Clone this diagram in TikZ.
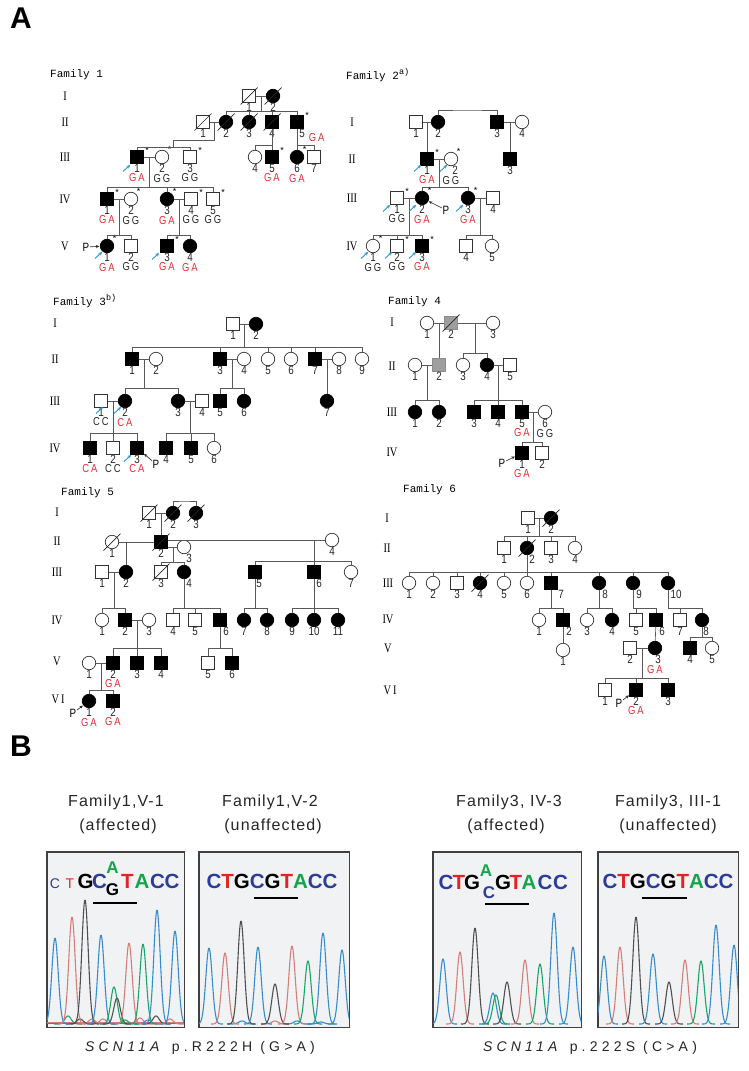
\documentclass[tikz,border=0pt]{standalone}
\usepackage{fontspec}
\setmainfont{Liberation Sans}
\newfontfamily\nfont[FakeStretch=0.82]{Liberation Sans}
\newfontfamily\mfont{Liberation Mono}
\newfontfamily\rfont[FakeStretch=0.8]{Liberation Serif}
\newfontfamily\tfont[LetterSpace=7]{Liberation Sans}
\newfontfamily\cfont[LetterSpace=30]{Liberation Sans}
\usetikzlibrary{calc,arrows.meta}
\definecolor{gred}{RGB}{228,45,50}
\definecolor{abl}{RGB}{35,150,210}
\definecolor{cb}{RGB}{55,140,205}
\definecolor{cr}{RGB}{215,125,120}
\definecolor{cg}{RGB}{25,165,105}
\definecolor{ck}{RGB}{80,80,80}
\definecolor{sqb}{RGB}{45,60,150}
\definecolor{sqr}{RGB}{225,35,35}
\definecolor{sqg}{RGB}{20,165,75}
\definecolor{bgc}{RGB}{240,242,244}
\newcommand\sC{\textcolor{sqb}{C}}
\newcommand\sT{\textcolor{sqr}{T}}
\newcommand\sA{\textcolor{sqg}{A}}
\newcommand\dd[1]{\draw[black!85,line width=0.7pt] ($(#1)+(-8.5,8.5)$) -- ($(#1)+(8.5,-8.5)$);}
\newcommand\barr[2]{\draw[barrow] (#1-7,#2+6.5) -- (#1,#2);}
\newcommand\sibs[3]{\draw[pl] (#1) -- (#1 |- 0,#2); \foreach \ch in {#3}{\draw[pl] (#1 |- 0,#2) -| (\ch);}}
\newcommand\pk[3]{\draw[#3,line width=1.1pt] plot[domain=#1-14:#1+14,samples=50,smooth] (\x,{1024-(1024-#2)*exp(-((\x-#1)/4.5)^2)});}
\begin{document}
\begin{tikzpicture}[x=1pt,y=-1pt,
 pl/.style={draw=black!65,line width=0.65pt},
 ind/.style={draw=black!80,line width=0.7pt,inner sep=0pt,fill=white,label distance=1.5pt},
 m/.style={ind,rectangle,minimum size=12.5pt},
 f/.style={ind,circle,minimum size=13.5pt},
 af/.style={fill=black,draw=black},
 gy/.style={fill=black!38,draw=black!45},
 numf/.style={font=\nfont\fontsize{12}{12}\selectfont,inner sep=0pt,text=black!85},
 gtf/.style={font=\nfont\fontsize{11.5}{12}\selectfont,inner sep=0pt},
 astf/.style={font=\fontsize{9}{9}\selectfont,inner sep=0pt},
 n/.style={label={[numf]below:#1}},
 nx/.style 2 args={label={[numf,xshift=#1]below:#2}},
 g/.style={label={[gtf,text=gred,yshift=-10pt]below:#1}},
 k/.style={label={[gtf,text=black!85,yshift=-10pt]below:#1}},
 ast/.style={label={[astf,anchor=center,xshift=10pt]north:{*}}},
 astc/.style={label={[astf,anchor=center,xshift=7.5pt]north:{*}}},
 genf/.style={font=\rfont\fontsize{13}{13}\selectfont,inner sep=0pt},
 famf/.style={font=\mfont\fontsize{11}{11}\selectfont,inner sep=0pt},
 ptf/.style={font=\nfont\fontsize{12}{12}\selectfont,inner sep=0.5pt},
 parr/.style={-{Stealth[length=3.5pt,width=3pt]},line width=0.6pt,black!85,shorten >=0.5pt},
 barrow/.style={-{Stealth[length=3.5pt,width=3.4pt]},abl,line width=0.9pt},
 chb/.style={draw=black!75,line width=1pt,fill=bgc,inner sep=0pt},
 seqf/.style={font=\bfseries\fontsize{20.5}{20}\selectfont,inner sep=0pt,anchor=base},
 seqs/.style={font=\bfseries\fontsize{17}{17}\selectfont,inner sep=0pt,anchor=base},
 seqt/.style={font=\fontsize{14}{14}\selectfont,inner sep=0pt,anchor=base},
 titf/.style={font=\tfont\fontsize{16}{16}\selectfont,inner sep=0pt,text=black!85},
 capf/.style={font=\cfont\fontsize{14}{14}\selectfont,inner sep=0pt,text=black!85},
 bar/.style={line width=2.8pt,black}
]
\useasboundingbox (0,0) rectangle (749,1071);
\fill[white] (0,0) rectangle (749,1071);
\node[font=\bfseries\fontsize{30}{30}\selectfont,inner sep=0pt] (labA) at (21,18) {A};
\node[font=\bfseries\fontsize{30}{30}\selectfont,inner sep=0pt] (labB) at (21,746) {B};

% ================= Family 1
\node[famf,anchor=west] (f1t) at (50,75) {Family 1};
\node[genf] (f1g1) at (65,96) {I};
\node[genf] (f1g2) at (65,122) {II};
\node[genf] (f1g3) at (65,157) {III};
\node[genf] (f1g4) at (65,199) {IV};
\node[genf] (f1g5) at (65,246) {V};
\node[m,n=1] (f1a1) at (249,96) {};
\node[f,af,n=2] (f1a2) at (273,96) {};
\node[m,n=1] (f1b1) at (203,122) {};
\node[f,af,n=2] (f1b2) at (226,122) {};
\node[f,af,n=3] (f1b3) at (249,122) {};
\node[m,af,n=4] (f1b4) at (272,122) {};
\node[m,af,nx={5pt}{5},ast,label={[gtf,text=gred,anchor=west,xshift=5pt,yshift=-16pt]east:{G\,A}}] (f1b5) at (297,122) {};
\node[m,af,n=1,g={G\,A},ast] (f1c1) at (137,157) {};
\node[f,n=2,k={G\,G},astc] (f1c2) at (162,157) {};
\node[m,n=3,k={G\,G},ast] (f1c3) at (190,157) {};
\node[f,n=4] (f1c4) at (255,157) {};
\node[m,af,n=5,g={G\,A},ast] (f1c5) at (272,157) {};
\node[f,af,n=6,g={G\,A},astc] (f1c6) at (297,157) {};
\node[m,n=7] (f1c7) at (314,157) {};
\node[m,af,n=1,g={G\,A},ast] (f1d1) at (107,199) {};
\node[f,n=2,k={G\,G},astc] (f1d2) at (131,199) {};
\node[f,af,n=3,g={G\,A},astc] (f1d3) at (167,199) {};
\node[m,n=4,k={G\,G},ast] (f1d4) at (191,199) {};
\node[m,n=5,k={G\,G},ast] (f1d5) at (213,199) {};
\node[f,af,n=1,g={G\,A},astc] (f1e1) at (107,246) {};
\node[m,n=2,k={G\,G}] (f1e2) at (131,246) {};
\node[m,af,n=3,g={G\,A},ast] (f1e3) at (167,246) {};
\node[f,af,n=4,g={G\,A}] (f1e4) at (190,246) {};
\dd{f1a1}\dd{f1a2}\dd{f1b1}\dd{f1b2}\dd{f1b3}\dd{f1b4}
\draw[pl] (f1a1) -- (f1a2);
\coordinate (f1m1) at ($(f1a1)!.5!(f1a2)$);
\sibs{f1m1}{111}{f1b2,f1b3,f1b4,f1b5}
\draw[pl] (f1b1) -- (f1b2);
\coordinate (f1m2) at ($(f1b1)!.5!(f1b2)$);
\coordinate (f1k) at (173,140);
\draw[pl] (f1m2) |- (f1k);
\sibs{f1k}{147}{f1c1,f1c3}
\sibs{f1b4}{145}{f1c4,f1c5}
\sibs{f1b5}{145}{f1c6,f1c7}
\draw[pl] (f1c1) -- (f1c2);
\coordinate (f1m3) at ($(f1c1)!.5!(f1c2)$);
\sibs{f1m3}{187}{f1d1,f1d3,f1d5}
\draw[pl] (f1d1) -- (f1d2);
\coordinate (f1m4) at ($(f1d1)!.5!(f1d2)$);
\sibs{f1m4}{235}{f1e1,f1e2}
\draw[pl] (f1d3) -- (f1d4);
\coordinate (f1m5) at ($(f1d3)!.5!(f1d4)$);
\sibs{f1m5}{235}{f1e3,f1e4}
\node[ptf] (f1p) at (86,247) {P};
\draw[parr] (f1p) -- (f1e1);
\barr{130}{165}\barr{102}{252}\barr{159}{253}

% ================= Family 2
\node[famf,anchor=west] (f2t) at (346,75) {Family 2\raisebox{5pt}{\fontsize{8.5}{8.5}\selectfont a)}};
\node[genf] (f2g1) at (352,122) {I};
\node[genf] (f2g2) at (352,159) {II};
\node[genf] (f2g3) at (352,198) {III};
\node[genf] (f2g4) at (352,246) {IV};
\node[m,n=1] (f2a1) at (416,122) {};
\node[f,af,n=2] (f2a2) at (438,122) {};
\node[m,af,n=3] (f2a3) at (497,122) {};
\node[f,n=4] (f2a4) at (522,122) {};
\node[m,af,n=1,g={G\,A},ast] (f2b1) at (427,159) {};
\node[f,nx={4pt}{2},k={G\,G},astc] (f2b2) at (451,159) {};
\node[m,af,n=3] (f2b3) at (510,159) {};
\node[m,n=1,k={G\,G},ast] (f2c1) at (397,198) {};
\node[f,af,n=2,g={G\,A},astc] (f2c2) at (422,198) {};
\node[f,af,n=3,g={G\,A},astc] (f2c3) at (468,198) {};
\node[m,n=4] (f2c4) at (493,198) {};
\node[f,n=1,k={G\,G},astc] (f2d1) at (373,246) {};
\node[m,n=2,k={G\,G},ast] (f2d2) at (397,246) {};
\node[m,af,n=3,g={G\,A},ast] (f2d3) at (422,246) {};
\node[m,n=4] (f2d4) at (466,246) {};
\node[f,n=5] (f2d5) at (492,246) {};
\coordinate (f2top) at (467,110);
\draw[pl] (f2a2) |- (f2top) -| (f2a3);
\draw[pl] (f2a1) -- (f2a2);
\coordinate (f2m1) at ($(f2a1)!.5!(f2a2)$);
\draw[pl] (f2m1) -- (f2b1);
\draw[pl] (f2a3) -- (f2a4);
\coordinate (f2m2) at (510,122);
\draw[pl] (f2m2) -- (f2b3);
\draw[pl] (f2b1) -- (f2b2);
\coordinate (f2m3) at ($(f2b1)!.5!(f2b2)$);
\sibs{f2m3}{187}{f2c2,f2c3}
\draw[pl] (f2c1) -- (f2c2);
\coordinate (f2m4) at ($(f2c1)!.5!(f2c2)$);
\sibs{f2m4}{235}{f2d1,f2d2,f2d3}
\draw[pl] (f2c3) -- (f2c4);
\coordinate (f2m5) at ($(f2c3)!.5!(f2c4)$);
\sibs{f2m5}{235}{f2d4,f2d5}
\node[ptf] (f2p) at (446,210) {P};
\draw[parr] (f2p) -- (f2c2);
\barr{421}{165}\barr{447}{165}\barr{390}{205}\barr{416}{205}\barr{463}{205}
\barr{368}{252}\barr{392}{252}\barr{416}{252}

% ================= Family 3
\node[famf,anchor=west] (f3t) at (53,301) {Family 3\raisebox{5pt}{\fontsize{8.5}{8.5}\selectfont b)}};
\node[genf] (f3g1) at (55,323) {I};
\node[genf] (f3g2) at (55,359) {II};
\node[genf] (f3g3) at (55,401) {III};
\node[genf] (f3g4) at (55,448) {IV};
\node[m,n=1] (f3a1) at (233,324) {};
\node[f,af,n=2] (f3a2) at (256,324) {};
\node[m,af,n=1] (f3b1) at (132,359) {};
\node[f,n=2] (f3b2) at (156,359) {};
\node[m,af,n=3] (f3b3) at (220,359) {};
\node[f,n=4] (f3b4) at (244,359) {};
\node[f,n=5] (f3b5) at (268,359) {};
\node[f,n=6] (f3b6) at (291,359) {};
\node[m,af,n=7] (f3b7) at (315,359) {};
\node[f,n=8] (f3b8) at (339,359) {};
\node[f,n=9] (f3b9) at (362,359) {};
\node[m,n=1,k={C\,C}] (f3c1) at (101,401) {};
\node[f,af,n=2,g={C\,A}] (f3c2) at (125,401) {};
\node[f,af,n=3] (f3c3) at (178,401) {};
\node[m,n=4] (f3c4) at (202,401) {};
\node[m,af,n=5] (f3c5) at (220,401) {};
\node[f,af,n=6] (f3c6) at (244,401) {};
\node[f,af,n=7] (f3c7) at (327,401) {};
\node[m,af,n=1,g={C\,A}] (f3d1) at (90,448) {};
\node[m,n=2,k={C\,C}] (f3d2) at (113,448) {};
\node[m,af,n=3,g={C\,A}] (f3d3) at (137,448) {};
\node[m,af,n=4] (f3d4) at (166,448) {};
\node[m,af,n=5] (f3d5) at (191,448) {};
\node[f,n=6] (f3d6) at (214,448) {};
\draw[pl] (f3a1) -- (f3a2);
\coordinate (f3m1) at ($(f3a1)!.5!(f3a2)$);
\sibs{f3m1}{347}{f3b1,f3b3,f3b5,f3b6,f3b7,f3b9}
\draw[pl] (f3b1) -- (f3b2);
\coordinate (f3m2) at ($(f3b1)!.5!(f3b2)$);
\sibs{f3m2}{388}{f3c2,f3c3}
\draw[pl] (f3b3) -- (f3b4);
\coordinate (f3m3) at ($(f3b3)!.5!(f3b4)$);
\sibs{f3m3}{388}{f3c5,f3c6}
\draw[pl] (f3b7) -- (f3b8);
\coordinate (f3m4) at (327,359);
\draw[pl] (f3m4) -- (f3c7);
\draw[pl] (f3c1) -- (f3c2);
\coordinate (f3m5) at ($(f3c1)!.5!(f3c2)$);
\sibs{f3m5}{433}{f3d1,f3d2,f3d3}
\draw[pl] (f3c3) -- (f3c4);
\coordinate (f3m6) at ($(f3c3)!.5!(f3c4)$);
\sibs{f3m6}{433}{f3d4,f3d5,f3d6}
\node[ptf] (f3p) at (156,464) {P};
\draw[parr] (f3p) -- (f3d3);
\barr{103}{407}\barr{121}{407}\barr{131}{455}

% ================= Family 4
\node[famf,anchor=west] (f4t) at (388,302) {Family 4};
\node[genf] (f4g1) at (392,322) {I};
\node[genf] (f4g2) at (392,366) {II};
\node[genf] (f4g3) at (392,412) {III};
\node[genf] (f4g4) at (392,452) {IV};
\node[f,n=1] (f4a1) at (427,323) {};
\node[m,gy,n=2] (f4a2) at (451,323) {};
\node[f,n=3] (f4a3) at (493,323) {};
\node[f,n=1] (f4b1) at (415,365) {};
\node[m,gy,n=2] (f4b2) at (439,365) {};
\node[f,n=3] (f4b3) at (463,365) {};
\node[f,af,n=4] (f4b4) at (487,365) {};
\node[m,n=5] (f4b5) at (510,365) {};
\node[f,af,n=1] (f4c1) at (415,412) {};
\node[f,af,n=2] (f4c2) at (439,412) {};
\node[m,af,n=3] (f4c3) at (474,412) {};
\node[m,af,n=4] (f4c4) at (498,412) {};
\node[m,af,n=5,g={G\,A}] (f4c5) at (522,412) {};
\node[f,n=6,k={G\,G}] (f4c6) at (545,412) {};
\node[m,af,n=1,g={G\,A}] (f4d1) at (522,453) {};
\node[m,n=2] (f4d2) at (542,453) {};
\dd{f4a2}
\draw[pl] (f4a1) -- (f4a2);
\draw[pl] (f4a2) -- (f4a3);
\coordinate (f4m1) at (439,323);
\draw[pl] (f4m1) -- (f4b2);
\coordinate (f4m2) at (475,323);
\sibs{f4m2}{353}{f4b3,f4b4}
\draw[pl] (f4b1) -- (f4b2);
\coordinate (f4m3) at ($(f4b1)!.5!(f4b2)$);
\sibs{f4m3}{400}{f4c1,f4c2}
\draw[pl] (f4b4) -- (f4b5);
\coordinate (f4m4) at ($(f4b4)!.5!(f4b5)$);
\sibs{f4m4}{400}{f4c3,f4c4,f4c5}
\draw[pl] (f4c5) -- (f4c6);
\coordinate (f4m5) at ($(f4c5)!.5!(f4c6)$);
\sibs{f4m5}{442}{f4d1,f4d2}
\node[ptf] (f4p) at (502,463) {P};
\draw[parr] (f4p) -- (f4d1);

% ================= Family 5
\node[famf,anchor=west] (f5t) at (61,493) {Family 5};
\node[genf] (f5g1) at (57,512) {I};
\node[genf] (f5g2) at (57,541) {II};
\node[genf] (f5g3) at (57,572) {III};
\node[genf] (f5g4) at (57,620) {IV};
\node[genf] (f5g5) at (57,661) {V};
\node[genf] (f5g6) at (58,699) {V\hspace{2pt}I};
\node[m,n=1] (f5a1) at (149,513) {};
\node[f,af,n=2] (f5a2) at (173,513) {};
\node[f,af,n=3] (f5a3) at (196,513) {};
\node[f,n=1] (f5b1) at (112,542) {};
\node[m,af,n=2] (f5b2) at (161,542) {};
\node[f,nx={5pt}{3}] (f5b3) at (184,547) {};
\node[f,n=4] (f5b4) at (332,540) {};
\node[m,n=1] (f5c1) at (102,572) {};
\node[f,af,n=2] (f5c2) at (126,572) {};
\node[m,n=3] (f5c3) at (161,572) {};
\node[f,af,nx={5pt}{4}] (f5c4) at (184,572) {};
\node[m,af,nx={4pt}{5}] (f5c5) at (255,572) {};
\node[m,af,nx={5pt}{6}] (f5c6) at (314,572) {};
\node[f,n=7] (f5c7) at (351,572) {};
\node[f,n=1] (f5d1) at (102,620) {};
\node[m,af,n=2] (f5d2) at (125,620) {};
\node[f,n=3] (f5d3) at (149,620) {};
\node[m,n=4] (f5d4) at (173,620) {};
\node[m,n=5] (f5d5) at (195,620) {};
\node[m,af,nx={6pt}{6}] (f5d6) at (220,620) {};
\node[f,af,n=7] (f5d7) at (244,620) {};
\node[f,af,n=8] (f5d8) at (267,620) {};
\node[f,af,n=9] (f5d9) at (292,620) {};
\node[f,af,n=10] (f5d10) at (314,620) {};
\node[f,af,n=11] (f5d11) at (338,620) {};
\node[f,n=1] (f5e1) at (89,663) {};
\node[m,af,n=2,g={G\,A}] (f5e2) at (113,663) {};
\node[m,af,n=3] (f5e3) at (137,663) {};
\node[m,af,n=4] (f5e4) at (161,663) {};
\node[m,n=5] (f5e5) at (208,663) {};
\node[m,af,n=6] (f5e6) at (232,663) {};
\node[f,af,n=1,g={G\,A}] (f5f1) at (89,701) {};
\node[m,af,n=2,g={G\,A}] (f5f2) at (113,701) {};
\dd{f5a1}\dd{f5a2}\dd{f5a3}\dd{f5b1}\dd{f5b2}\dd{f5c3}
\coordinate (f5top) at (184,501);
\draw[pl] (f5a2) |- (f5top) -| (f5a3);
\draw[pl] (f5a1) -- (f5a2);
\coordinate (f5m0) at (161,513);
\draw[pl] (f5m0) -- (f5b2);
\draw[pl] (f5b1) -- (f5b2);
\draw[pl] (f5b2.east |- f5b3) -- (f5b3);
\draw[pl] (f5b2.east |- f5b4) -- (f5b4);
\coordinate (f5m1) at (126,542);
\draw[pl] (f5m1) -- (f5c2);
\coordinate (f5m2) at (173,547);
\sibs{f5m2}{562}{f5c3,f5c4}
\coordinate (f5m3) at (314,540);
\sibs{f5m3}{561}{f5c5,f5c6,f5c7}
\draw[pl] (f5c1) -- (f5c2);
\coordinate (f5m4) at ($(f5c1)!.5!(f5c2)$);
\sibs{f5m4}{608}{f5d1,f5d2}
\sibs{f5c4}{608}{f5d4,f5d5,f5d6}
\sibs{f5c5}{608}{f5d7,f5d8}
\sibs{f5c6}{608}{f5d9,f5d10,f5d11}
\draw[pl] (f5d2) -- (f5d3);
\coordinate (f5m5) at ($(f5d2)!.5!(f5d3)$);
\sibs{f5m5}{648}{f5e2,f5e3,f5e4}
\sibs{f5d6}{648}{f5e5,f5e6}
\draw[pl] (f5e1) -- (f5e2);
\coordinate (f5m6) at ($(f5e1)!.5!(f5e2)$);
\sibs{f5m6}{690}{f5f1,f5f2}
\node[ptf] (f5p) at (73,713) {P};
\draw[parr] (f5p) -- (f5f1);

% ================= Family 6
\node[famf,anchor=west] (f6t) at (403,490) {Family 6};
\node[genf] (f6g1) at (387,518) {I};
\node[genf] (f6g2) at (387,548) {II};
\node[genf] (f6g3) at (388,583) {III};
\node[genf] (f6g4) at (388,619) {IV};
\node[genf] (f6g5) at (388,648) {V};
\node[genf] (f6g6) at (390,690) {V\hspace{2pt}I};
\node[m,n=1] (f6a1) at (528,518) {};
\node[f,af,n=2] (f6a2) at (551,518) {};
\node[m,n=1] (f6b1) at (504,548) {};
\node[f,af,nx={5pt}{2}] (f6b2) at (527,548) {};
\node[m,n=3] (f6b3) at (551,548) {};
\node[f,n=4] (f6b4) at (575,548) {};
\node[f,n=1] (f6c1) at (409,583) {};
\node[f,n=2] (f6c2) at (433,583) {};
\node[m,n=3] (f6c3) at (457,583) {};
\node[f,af,n=4] (f6c4) at (480,583) {};
\node[f,n=5] (f6c5) at (504,583) {};
\node[f,n=6] (f6c6) at (527,583) {};
\node[m,af,nx={10pt}{7}] (f6c7) at (551,583) {};
\node[f,af,nx={6pt}{8}] (f6c8) at (599,583) {};
\node[f,af,nx={6pt}{9}] (f6c9) at (633,583) {};
\node[f,af,nx={8pt}{10}] (f6c10) at (668,583) {};
\node[f,n=1] (f6d1) at (539,620) {};
\node[m,af,nx={6pt}{2}] (f6d2) at (563,620) {};
\node[f,n=3] (f6d3) at (587,620) {};
\node[f,af,n=4] (f6d4) at (612,620) {};
\node[m,n=5] (f6d5) at (636,620) {};
\node[m,af,nx={6pt}{6}] (f6d6) at (656,620) {};
\node[m,n=7] (f6d7) at (680,620) {};
\node[f,af,nx={4pt}{8}] (f6d8) at (702,620) {};
\node[f,n=1] (f6e1) at (563,650) {};
\node[m,n=2] (f6e2) at (630,648) {};
\node[f,af,nx={3pt}{3},g={G\,A}] (f6e3) at (655,648) {};
\node[m,af,n=4] (f6e4) at (690,648) {};
\node[f,n=5] (f6e5) at (712,648) {};
\node[m,n=1] (f6f1) at (605,690) {};
\node[m,af,n=2,g={G\,A}] (f6f2) at (636,690) {};
\node[m,af,n=3] (f6f3) at (668,690) {};
\dd{f6a2}\dd{f6b2}\dd{f6c4}
\draw[pl] (f6a1) -- (f6a2);
\coordinate (f6m1) at ($(f6a1)!.5!(f6a2)$);
\sibs{f6m1}{536}{f6b1,f6b2,f6b3,f6b4}
\sibs{f6b2}{572}{f6c1,f6c2,f6c3,f6c4,f6c5,f6c6,f6c7,f6c8,f6c9,f6c10}
\sibs{f6c7}{608}{f6d1,f6d2}
\sibs{f6c8}{608}{f6d3,f6d4}
\sibs{f6c9}{608}{f6d5,f6d6}
\sibs{f6c10}{608}{f6d7,f6d8}
\draw[pl] (f6d2) -- (f6e1);
\draw[pl] (f6d6) -- (f6e3);
\sibs{f6d8}{637}{f6e4,f6e5}
\draw[pl] (f6e2) -- (f6e3);
\coordinate (f6m2) at ($(f6e2)!.5!(f6e3)$);
\sibs{f6m2}{678}{f6f1,f6f2,f6f3}
\node[ptf] (f6p) at (619,703) {P};
\draw[parr] (f6p) -- (f6f2);

% ================= Panel B
\node[titf] (t1a) at (116,802) {Family1,V-1};
\node[titf] (t1b) at (118,826) {(affected)};
\node[titf] (t2a) at (270,802) {Family1,V-2};
\node[titf] (t2b) at (273,826) {(unaffected)};
\node[titf] (t3a) at (509,802) {Family3, IV-3};
\node[titf] (t3b) at (506,826) {(affected)};
\node[titf] (t4a) at (668,802) {Family3, III-1};
\node[titf] (t4b) at (668,826) {(unaffected)};

\node[chb,minimum width=137pt,minimum height=175pt] (bx1) at (115.5,939.5) {};
\node[chb,minimum width=150pt,minimum height=175pt] (bx2) at (274,939.5) {};
\node[chb,minimum width=148pt,minimum height=175pt] (bx3) at (507,939.5) {};
\node[chb,minimum width=140pt,minimum height=175pt] (bx4) at (668,939.5) {};

\begin{scope}
\clip (bx1.south west) rectangle (bx1.north east);
\draw[cr,line width=1pt] (47,1022) -- (184,1022);
\draw[cg,line width=1pt] (47,1023.5) -- (184,1023.5);
\pk{68}{1016}{cg}\pk{92}{1019}{cr}\pk{103}{1019}{cr}\pk{80}{1019}{ck}
\pk{140}{1018}{cr}\pk{156}{1016}{ck}\pk{148}{1020}{cb}\pk{125}{1020}{cg}\pk{170}{1019}{cr}
\pk{55}{938}{cb}\pk{72}{917}{cr}\pk{85}{900}{ck}\pk{101}{935}{cb}
\pk{114}{987}{cg}\pk{117}{998}{ck}\pk{129}{943}{cr}\pk{143}{944}{cg}
\pk{157}{910}{cb}\pk{175}{931}{cb}
\end{scope}
\begin{scope}
\clip (bx2.south west) rectangle (bx2.north east);
\pk{242}{1021}{cb}\pk{297}{1021}{cb}\pk{321}{1022}{cb}\pk{275}{1021}{cr}
\pk{209}{948}{cb}\pk{225}{953}{cr}\pk{241}{921}{ck}\pk{258}{947}{cb}
\pk{275}{984}{ck}\pk{292}{946}{cr}\pk{308}{961}{cg}\pk{323}{933}{cb}\pk{342}{950}{cb}
\end{scope}
\begin{scope}
\clip (bx3.south west) rectangle (bx3.north east);
\pk{443}{959}{cb}\pk{460}{952}{cr}\pk{475}{928}{ck}\pk{493}{993}{cb}
\pk{496}{995}{cg}\pk{507}{982}{ck}\pk{525}{960}{cr}\pk{540}{964}{cg}
\pk{554}{913}{cb}\pk{573}{947}{cb}
\end{scope}
\begin{scope}
\clip (bx4.south west) rectangle (bx4.north east);
\pk{604}{956}{cb}\pk{620}{947}{cr}\pk{636}{917}{ck}\pk{653}{954}{cb}
\pk{669}{982}{ck}\pk{685}{960}{cr}\pk{701}{961}{cg}\pk{716}{925}{cb}\pk{734}{945}{cb}
\end{scope}
\draw[draw=black!75,line width=1pt] (bx1.south west) rectangle (bx1.north east);
\draw[draw=black!75,line width=1pt] (bx2.south west) rectangle (bx2.north east);
\draw[draw=black!75,line width=1pt] (bx3.south west) rectangle (bx3.north east);
\draw[draw=black!75,line width=1pt] (bx4.south west) rectangle (bx4.north east);

% sequences
\node[seqt] (s1a) at (55,888) {\sC};
\node[seqt] (s1b) at (70,888) {\sT};
\node[seqf] (s1c) at (85.5,888) {G};
\node[seqf] (s1d) at (99.5,888) {\sC};
\node[seqs] (s1e) at (112.5,873) {\sA};
\node[seqs] (s1f) at (112.5,895) {G};
\node[seqf] (s1g) at (127.5,888) {\sT};
\node[seqf] (s1h) at (142,888) {\sA};
\node[seqf] (s1i) at (157.5,888) {\sC};
\node[seqf] (s1j) at (172,888) {\sC};
\draw[bar] (93,903) -- (137,903);
\node[seqf] (s2) at (272,888) {\sC\sT G\sC G\sT\sA\sC\sC};
\draw[bar] (254,898) -- (298,898);
\node[seqf] (s3a) at (446,889) {\sC};
\node[seqf] (s3b) at (459,889) {\sT};
\node[seqf] (s3c) at (472,889) {G};
\node[seqs] (s3d) at (486,876) {\sA};
\node[seqs] (s3e) at (489,898) {\sC};
\node[seqf] (s3f) at (503,889) {G};
\node[seqf] (s3g) at (516,889) {\sT};
\node[seqf] (s3h) at (529,889) {\sA};
\node[seqf] (s3i) at (545,889) {\sC};
\node[seqf] (s3j) at (560.5,889) {\sC};
\draw[bar] (485,904) -- (529,904);
\node[seqf] (s4) at (668,888) {\sC\sT G\sC G\sT\sA\sC\sC};
\draw[bar] (642,898) -- (687,898);

\node[capf] (cap1) at (200,1048) {\textit{SCN11A} p.R222H (G>A)};
\node[capf] (cap2) at (590,1048) {\textit{SCN11A} p.222S (C>A)};
\end{tikzpicture}
\end{document}
